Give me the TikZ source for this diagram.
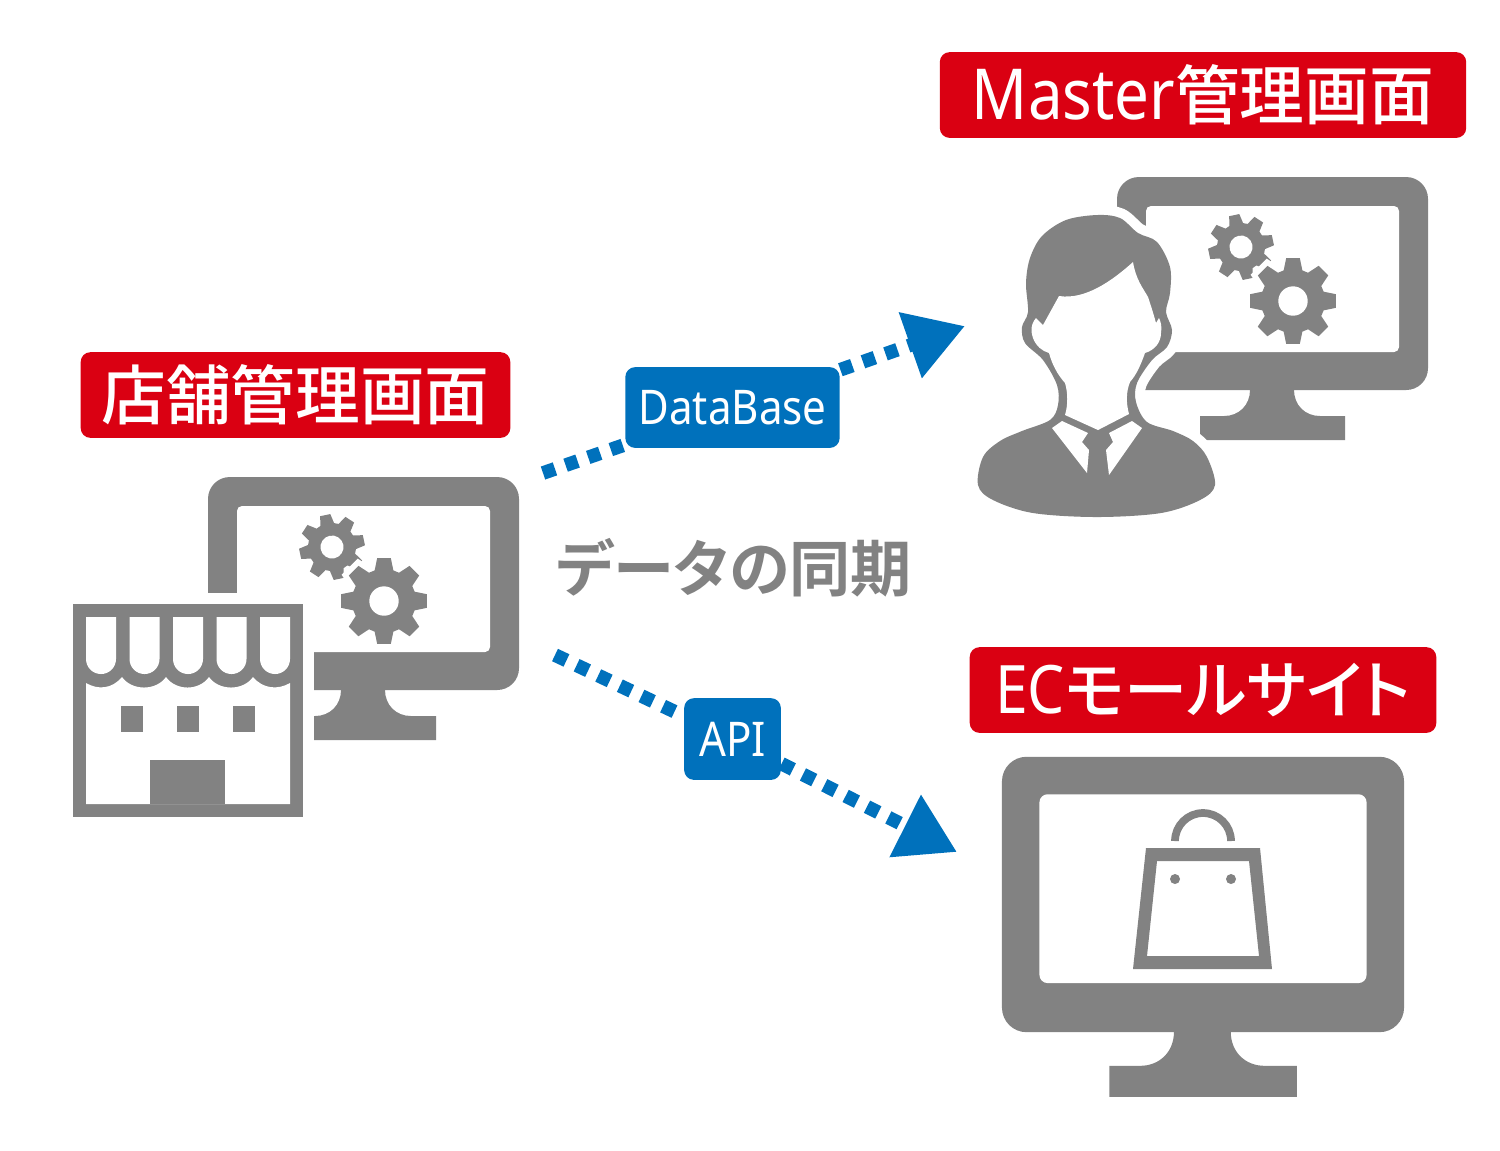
\documentclass[tikz,border=0pt]{standalone}
\usepackage{fontspec}
\usetikzlibrary{arrows.meta}
\setmainfont{Noto Sans}
\newfontfamily\jpfont[RawFeature=+palt]{Noto Sans CJK JP Medium}
\newfontfamily\jpheavy[RawFeature=+palt]{Noto Sans CJK JP Bold}
\newfontfamily\latinfont[FakeStretch=0.88]{Noto Sans}
\definecolor{icongray}{RGB}{130,130,130}
\definecolor{tagred}{RGB}{218,0,18}
\definecolor{tagblue}{RGB}{0,113,188}

% #1 outer radius, #2 screen radius
\newcommand{\monitoricon}[2]{
	\fill[icongray, rounded corners=#1] (208,477) rectangle (519,690);
	\fill[white, rounded corners=#2] (237,506) rectangle (490,652);
	\fill[icongray] (341,688) -- (341,690) .. controls (341,705) and (330,716) .. (315,716) -- (291,716) -- (291,740) -- (436,740) -- (436,716) -- (411,716) .. controls (396,716) and (385,705) .. (385,690) -- (385,688) -- cycle;
}
% #1 x, #2 y, #3 tip radius, #4 root radius, #5 hole radius, #6 rotation
\newcommand{\gearicon}[6]{
	\begin{scope}[shift={(#1,#2)}, rotate=#6]
		\fill[icongray, line join=round, preaction={draw=white, line width=3.2pt}] (-17:#4) \foreach \k in {0,45,...,315} { -- ({\k-17}:#4) -- ({\k-9}:#3) -- ({\k+9}:#3) -- ({\k+17}:#4) } -- cycle;
		\fill[white] (0,0) circle (#5);
	\end{scope}
}
\newcommand{\gearpair}{
	\gearicon{332}{547}{33}{24}{11.5}{12}
	\gearicon{384}{601}{43.5}{32}{14.7}{0}
}

\begin{document}
\begin{tikzpicture}[x=0.01cm, y=-0.01cm]
	\tikzstyle{redtag}=[fill=tagred, text=white, rounded corners=2.8pt, inner sep=0pt, font=\jpfont\fontsize{18.4}{18.4}\selectfont]
	\tikzstyle{bluetag}=[fill=tagblue, text=white, rounded corners=2.8pt, inner sep=0pt, font=\latinfont\fontsize{13.6}{13.6}\selectfont]
	\tikzstyle{syncline}=[tagblue, line width=3.9pt, dash pattern=on 3.6pt off 3.2pt]
	\tikzstyle{synctip}=[-{Triangle[length=16.5pt, width=18.8pt]}]
	\useasboundingbox (0,0) rectangle (1500,1150);

	% shop screen, cut back where the shop front stands
	\monitoricon{6.2pt}{1.4pt}
	\gearpair
	\fill[white] (200,593) rectangle (314,750);

	% shop front
	\fill[icongray] (73,604) rectangle (303,817);
	\foreach \x in {86,129.5,173,216.5,260}
		\fill[white] (\x,617) -- (\x+30,617) -- (\x+30,659) arc[start angle=0, end angle=-180, x radius=15, y radius=-15] -- cycle;
	\fill[white] (86,683) .. controls (98,690) and (112,689) .. (122,677) .. controls (132,691) and (156,691) .. (166,677) .. controls (176,691) and (199,691) .. (209,677) .. controls (219,691) and (243,691) .. (253,677) .. controls (263,689) and (278,690) .. (290,683) -- (290,804) -- (86,804) -- cycle;
	\foreach \x in {121,177,233}
		\fill[icongray] (\x,706) rectangle (\x+22,732);
	\fill[icongray] (150,760) rectangle (225,804);

	% admin screen and person
	\begin{scope}[shift={(909,-300)}]
		\monitoricon{6.2pt}{1.4pt}
		\gearpair
	\end{scope}
	\fill[icongray, preaction={draw=white, line width=5.6pt}] plot[smooth cycle, tension=.55] coordinates {(978,485) (983,457) (1000,441) (1022,431) (1050,420) (1058,405) (1057,385) (1043,360) (1025,343) (1022,327) (1028,312) (1026,283) (1030,258) (1042,236) (1066,220) (1097,215) (1120,218) (1138,233) (1157,242) (1170,267) (1170,293) (1166,312) (1172,330) (1167,347) (1152,360) (1137,383) (1136,402) (1147,422) (1173,431) (1193,441) (1207,457) (1215,485) (1200,500) (1161,513) (1097,517) (1033,513) (993,500)};
	\fill[white] (1059,296) -- (1043,325) -- (1036,318) .. controls (1030,325) and (1031,333) .. (1033,338) .. controls (1036,346) and (1042,351) .. (1049,353) .. controls (1052,364) and (1057,374) .. (1065,383) .. controls (1068,393) and (1068,405) .. (1065,415) -- (1098,430) -- (1129,414) .. controls (1126,403) and (1126,392) .. (1130,382) .. controls (1137,374) and (1141,364) .. (1145,353) .. controls (1155,350) and (1161,342) .. (1161,333) .. controls (1162,327) and (1161,322) .. (1159,318) -- (1156,323) .. controls (1153,312) and (1150,303) .. (1148,297) .. controls (1143,288) and (1136,280) .. (1133,262) .. controls (1112,281) and (1085,300) .. (1059,296) -- cycle;
	\fill[white] (1052,428) -- (1062,421) -- (1088,433) -- (1082,442) -- (1089,450) -- (1087,473) -- cycle;
	\fill[white] (1142,428) -- (1132,421) -- (1109,433) -- (1113,442) -- (1106,450) -- (1109,475) -- cycle;

	% mall screen and bag
	\begin{scope}[shift={(733,140)}, scale=1.293]
		\monitoricon{7pt}{2.3pt}
	\end{scope}
	\fill[icongray, even odd rule] (1146,848) -- (1260,848) -- (1272,969) -- (1133,969) -- cycle (1157,861) -- (1249,861) -- (1259,956) -- (1147,956) -- cycle;
	\fill[icongray] (1175,879) circle (5) (1231,879) circle (5);
	\draw[icongray, line width=2.2pt] (1175,841) arc[start angle=180, end angle=0, x radius=28, y radius=-28];

	% labels
	\node[redtag, minimum width=431*0.2835pt, minimum height=86*0.2835pt] (shoptag) at (295.5,395) {店舗管理画面};
	\node[redtag, minimum width=528*0.2835pt, minimum height=86*0.2835pt] (mastertag) at (1203,95) {{\latinfont\fontsize{20}{20}\selectfont Master}管理画面};
	\node[redtag, minimum width=468*0.2835pt, minimum height=86*0.2835pt] (ectag) at (1203,690) {{\latinfont\fontsize{19}{19}\selectfont EC}{\fontsize{18}{18}\selectfont モールサイト}};
	\node[bluetag, minimum width=215*0.2835pt, minimum height=81*0.2835pt] (dbtag) at (732.5,407.5) {DataBase};
	\node[bluetag, minimum width=97*0.2835pt, minimum height=82*0.2835pt] (apitag) at (732.5,739) {API};
	\node[text=icongray, font=\jpheavy\fontsize{17.4}{17.4}\selectfont, inner sep=0pt] (synctext) at (734,568) {データの同期};

	% sync lines
	\coordinate (dbstart) at (543,473);
	\coordinate (dbend) at (965,326);
	\coordinate (apistart) at (555,655);
	\coordinate (apiend) at (957,852);
	\draw[syncline] (dbstart) -- (dbtag);
	\draw[syncline, synctip] (dbtag) -- (dbend);
	\draw[syncline] (apistart) -- (apitag);
	\draw[syncline, synctip] (apitag) -- (apiend);
\end{tikzpicture}
\end{document}
